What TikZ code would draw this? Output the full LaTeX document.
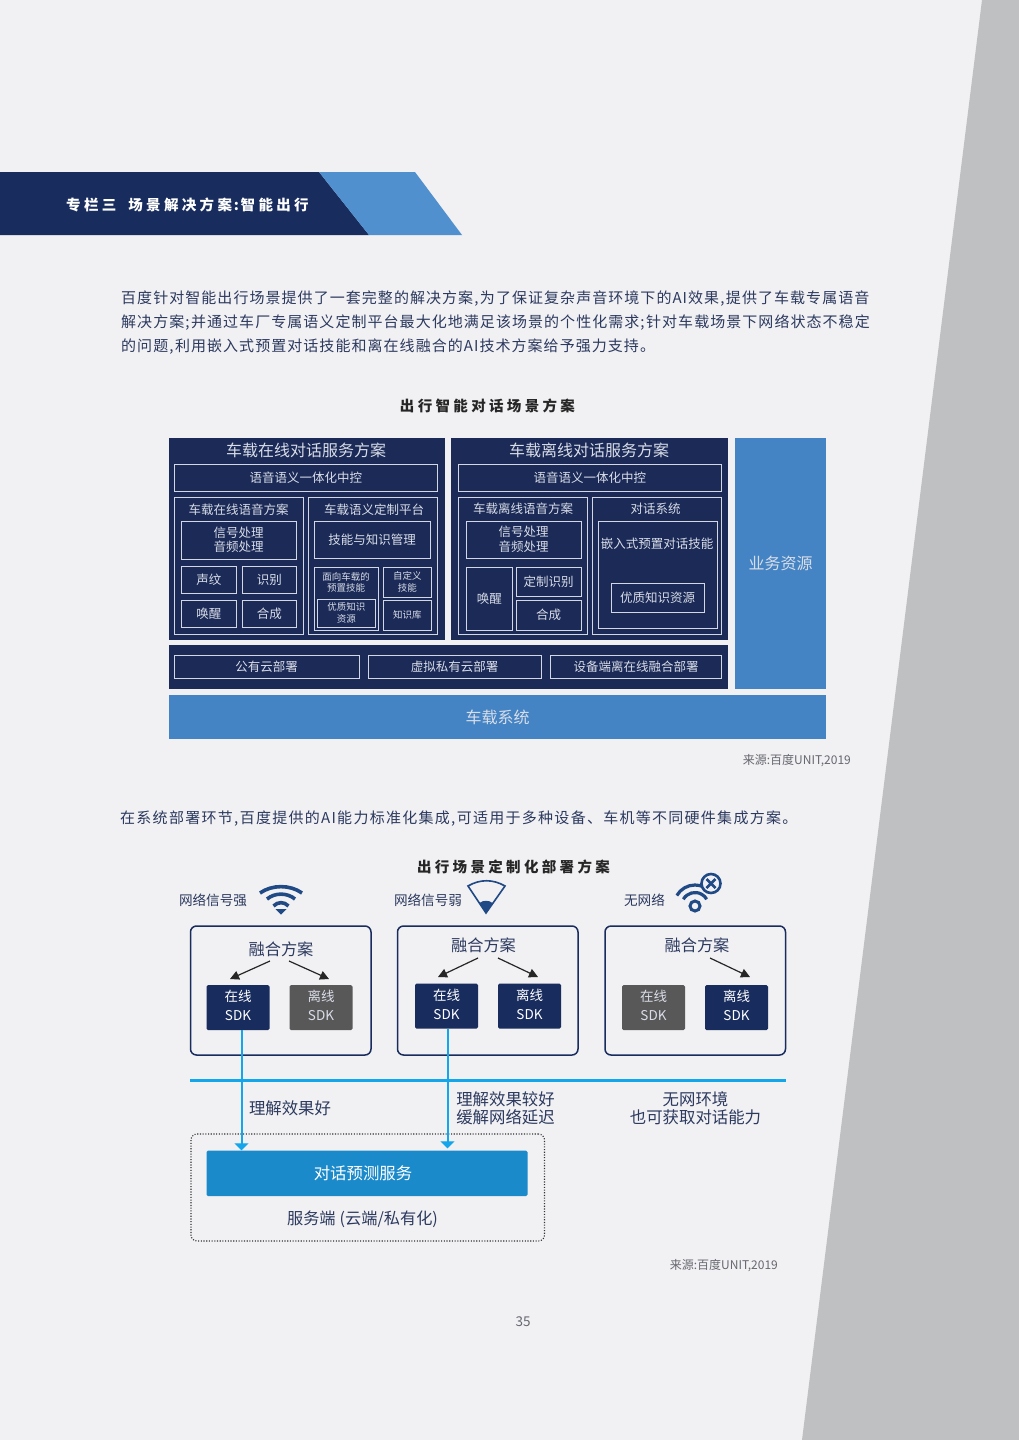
\documentclass[tikz,border=0pt]{standalone}
\usepackage{fontspec}
\setmainfont{Noto Sans CJK SC}
\newfontfamily\spaced[LetterSpace=23]{Noto Sans CJK SC}
\newfontfamily\bodya[LetterSpace=7]{Noto Sans CJK SC}
\newfontfamily\bodyb[LetterSpace=8.5]{Noto Sans CJK SC}
\usetikzlibrary{arrows.meta}
\definecolor{pagebg}{HTML}{F1F0F2}
\definecolor{sidegrey}{HTML}{BFC0C2}
\definecolor{navy}{HTML}{1B2A57}
\definecolor{bannernavy}{HTML}{182C5E}
\definecolor{bannerblue}{HTML}{5090CE}
\definecolor{midblue}{HTML}{4484C4}
\definecolor{lightline}{HTML}{D3D7E2}
\definecolor{lighttext}{HTML}{D9DDE8}
\definecolor{bodytext}{HTML}{2C3A60}
\definecolor{sdkgrey}{HTML}{595859}
\definecolor{sky}{HTML}{14A6EA}
\definecolor{service}{HTML}{1B8ACB}
\definecolor{icon}{HTML}{1F4A85}
\definecolor{srcgrey}{HTML}{666870}
\newcommand\cma{,\hspace{1.5pt}}
\newcommand\smi{;\hspace{1.5pt}}
\newcommand\sdkt[2]{\raisebox{2pt}{\begin{tabular}{@{}c@{}}#1\\#2\end{tabular}}}
\tikzset{
  px/.style={font=\fontsize{#1}{20}\selectfont},
  para/.style={inner sep=0pt,anchor=west,text=bodytext,font=\fontsize{15}{20}\bodya},
  txt/.style={inner sep=0pt,align=center,text=bodytext},
  headline/.style={inner sep=0pt,text=black!85,font=\fontsize{14.5}{17}\spaced\bfseries},
  panel/.style={fill=navy,draw=none,inner sep=0pt,align=center,text=lighttext},
  inbox/.style={draw=lightline,line width=0.9pt,inner sep=0pt,align=center,text=lighttext,font=\fontsize{12.5}{14.5}\selectfont},
  sdk/.style={fill=bannernavy,rounded corners=1.5pt,inner sep=0pt,align=center,text=white,font=\fontsize{13.5}{19}\selectfont},
  sdkoff/.style={sdk,fill=sdkgrey,text=lighttext},
  group/.style={draw=bannernavy,line width=1.5pt,rounded corners=6pt,inner sep=0pt},
  choose/.style={-{Triangle[length=9pt,width=9pt]},draw=black!85,line width=1.2pt},
  feedline/.style={draw=sky,line width=2pt},
  feedtip/.style={-{Triangle[length=7pt,width=14pt]},draw=sky,line width=1pt},
  wave/.style={draw=icon,line width=3.6pt},
}
\newcommand\bx[6][]{%
  \pgfmathsetmacro\cxv{(#3+#5)/2}\pgfmathsetmacro\cyv{(#4+#6)/2}%
  \pgfmathsetmacro\wv{#5-#3}\pgfmathsetmacro\hv{#6-#4}%
  \node[#1,minimum width=\wv pt,minimum height=\hv pt] (#2) at (\cxv,\cyv)}
\begin{document}
\begin{tikzpicture}[x=1pt,y=-1pt]
\useasboundingbox (0,0) rectangle (1019,1440);
\fill[pagebg] (0,0) rectangle (1019,1440);
\fill[sidegrey] (982,0) -- (1019,0) -- (1019,1440) -- (802,1440) -- cycle;
% banner
\fill[bannernavy] (0,172) -- (319,172) -- (369,235) -- (0,235) -- cycle;
\fill[bannerblue] (319,172) -- (415,172) -- (462,235) -- (369,235) -- cycle;
\node[headline,anchor=west,text=white] (bannertext) at (66,205) {专栏三\hspace{12pt}场景解决方案\makebox[8.7pt][c]{:}智能出行};
% paragraph
\node[para] (p1) at (121,299) {百度针对智能出行场景提供了一套完整的解决方案\cma 为了保证复杂声音环境下的AI效果\cma 提供了车载专属语音};
\node[para] (p2) at (121,323) {解决方案\smi 并通过车厂专属语义定制平台最大化地满足该场景的个性化需求\smi 针对车载场景下网络状态不稳定};
\node[para] (p3) at (121,347) {的问题\cma 利用嵌入式预置对话技能和离在线融合的AI技术方案给予强力支持。};
\node[headline] (t1) at (487.5,406) {出行智能对话场景方案};
% upper diagram panels
\bx[panel]{onl}{169}{438}{445}{640}{};
\bx[panel]{ofl}{451}{438}{728}{640}{};
\bx[panel]{dep}{169}{645}{728}{689}{};
\bx[panel,fill=midblue,text=lighttext,font=\fontsize{16}{19}\selectfont]{res}{735}{438}{826}{689}{业务资源};
\bx[panel,fill=midblue,text=lighttext,font=\fontsize{16}{19}\selectfont]{car}{169}{695}{826}{739}{车载系统};
\node[inner sep=0pt,text=lighttext,font=\fontsize{16}{19}\selectfont] (onlt) at (306,450) {车载在线对话服务方案};
\node[inner sep=0pt,text=lighttext,font=\fontsize{16}{19}\selectfont] (oflt) at (589,450) {车载离线对话服务方案};
% online
\bx[inbox]{ctl1}{174}{464}{437.5}{491}{语音语义一体化中控};
\bx[inbox]{sp1}{174}{497}{303}{634}{};
\bx[inbox]{sem}{308}{497}{437.5}{634}{};
\node[inner sep=0pt,text=lighttext,font=\fontsize{12.5}{15}\selectfont] (sp1t) at (238.5,510) {车载在线语音方案};
\node[inner sep=0pt,text=lighttext,font=\fontsize{12.5}{15}\selectfont] (semt) at (374,510) {车载语义定制平台};
\bx[inbox]{sig1}{181}{521}{296}{559}{信号处理\\音频处理};
\bx[inbox]{shw}{181.5}{566}{236}{593}{声纹};
\bx[inbox]{rec1}{242}{566}{296.5}{593}{识别};
\bx[inbox]{wak1}{181.5}{600}{236}{627}{唤醒};
\bx[inbox]{syn1}{242}{600}{296.5}{627}{合成};
\bx[inbox]{mgr}{314}{521}{430}{558}{技能与知识管理};
\bx[inbox]{pre}{314}{567}{378.5}{630}{};
\node[inner sep=0pt,align=center,text=lighttext,font=\fontsize{9.5}{11.5}\selectfont] (pret) at (346,582.5) {面向车载的\\预置技能};
\bx[inbox,font=\fontsize{9.5}{11.5}\selectfont]{qual1}{317.5}{599}{375}{627}{优质知识\\资源};
\bx[inbox,font=\fontsize{9.5}{11.5}\selectfont]{cust}{383}{567}{431.5}{597}{自定义\\技能};
\bx[inbox,font=\fontsize{9.5}{11.5}\selectfont]{kb}{383}{600}{431.5}{630}{知识库};
% offline
\bx[inbox]{ctl2}{458}{464}{721.5}{491}{语音语义一体化中控};
\bx[inbox]{sp2}{458}{497}{587}{634}{};
\bx[inbox]{dlg}{592.5}{497}{721.5}{634}{};
\node[inner sep=0pt,text=lighttext,font=\fontsize{12.5}{15}\selectfont] (sp2t) at (523,508.5) {车载离线语音方案};
\node[inner sep=0pt,text=lighttext,font=\fontsize{12.5}{15}\selectfont] (dlgt) at (655.5,508.5) {对话系统};
\bx[inbox]{sig2}{466}{521}{581}{558}{信号处理\\音频处理};
\bx[inbox]{wak2}{466}{567}{512.5}{630}{唤醒};
\bx[inbox]{rec2}{516}{567}{581}{596}{定制识别};
\bx[inbox]{syn2}{516}{600}{581}{630}{合成};
\bx[inbox]{emb}{598}{521}{717}{628.5}{};
\node[inner sep=0pt,text=lighttext,font=\fontsize{12.5}{15}\selectfont] (embt) at (657,544) {嵌入式预置对话技能};
\bx[inbox]{qual2}{611}{583}{704}{612}{优质知识资源};
% deployment
\bx[inbox]{pub}{174}{655}{359}{678}{公有云部署};
\bx[inbox]{pri}{368}{655}{541}{678}{虚拟私有云部署};
\bx[inbox]{edg}{550.5}{655}{721.5}{678}{设备端离在线融合部署};
\node[txt,anchor=east,text=srcgrey,px=12] (src1) at (851,761) {来源:百度UNIT,2019};
\node[para,font=\fontsize{15}{20}\bodyb] (p4) at (120,819) {在系统部署环节\cma 百度提供的AI能力标准化集成\cma 可适用于多种设备、车机等不同硬件集成方案。};
% lower diagram
\node[headline] (t2) at (513.5,867) {出行场景定制化部署方案};
\node[txt,px=13.6] (n1) at (213,900) {网络信号强};
\node[txt,px=13.6] (n2) at (428,900) {网络信号弱};
\node[txt,px=13.6] (n3) at (644.5,900) {无网络};
% wifi strong
\draw[wave] (260,893) .. controls (272,884.5) and (290,884.5) .. (302,893);
\draw[wave] (267,899) .. controls (275,892.5) and (287,892.5) .. (295,899);
\draw[wave] (273.5,906) .. controls (278,901.5) and (284,901.5) .. (288.5,906);
\fill[icon] (275.5,909) -- (286.5,909) -- (281,914.5) -- cycle;
% weak signal sector
\draw[icon,line width=1.6pt,line join=miter] (486,913) -- (468,886) .. controls (480,879) and (493,879) .. (505,886) -- cycle;
\fill[icon] (486,913) -- (479.5,903) .. controls (483,900) and (489,900) .. (492.5,903) -- cycle;
% no network
\draw[icon,line width=3.2pt] (695,906) ++(-150:21) arc[start angle=-150,end angle=-40,radius=21];
\draw[icon,line width=3.2pt] (695,906) ++(-150:13.5) arc[start angle=-150,end angle=-30,radius=13.5];
\draw[icon,line width=3pt] (695,906) circle[radius=5];
\draw[icon,line width=2.6pt,fill=pagebg] (711,883.5) circle[radius=9.5];
\draw[icon,line width=2.6pt] (706.5,879) -- (715.5,888) (715.5,879) -- (706.5,888);
% groups
\bx[group]{g1}{190.5}{926}{371}{1055}{};
\bx[group]{g2}{397.5}{926}{578}{1055}{};
\bx[group]{g3}{605}{926}{785.5}{1055}{};
\node[txt,px=16.2] (h1) at (281,949) {融合方案};
\node[txt,px=16.2] (h2) at (483.5,945) {融合方案};
\node[txt,px=16.2] (h3) at (697,945) {融合方案};
\bx[sdk]{a1}{206.5}{985}{269.5}{1030}{\sdkt{在线}{SDK}};
\bx[sdkoff]{b1}{289.5}{985}{352.5}{1030}{\sdkt{离线}{SDK}};
\bx[sdk]{a2}{415}{983.5}{478}{1028.5}{\sdkt{在线}{SDK}};
\bx[sdk]{b2}{498}{983.5}{561}{1028.5}{\sdkt{离线}{SDK}};
\bx[sdkoff]{a3}{622}{985}{685}{1030}{\sdkt{在线}{SDK}};
\bx[sdk]{b3}{705}{985}{768}{1030}{\sdkt{离线}{SDK}};
\coordinate (s1a) at (270,961); \coordinate (s1b) at (289,961);
\coordinate (s2a) at (478,958); \coordinate (s2b) at (498,958);
\coordinate (s3b) at (710,958);
\coordinate (e1a) at (230,979); \coordinate (e1b) at (329,979);
\coordinate (e2a) at (438,977); \coordinate (e2b) at (538,977);
\coordinate (e3b) at (750,977);
\draw[choose] (s1a) -- (e1a);
\draw[choose] (s1b) -- (e1b);
\draw[choose] (s2a) -- (e2a);
\draw[choose] (s2b) -- (e2b);
\draw[choose] (s3b) -- (e3b);
% blue rule
\coordinate (ruleL) at (190,1080.5); \coordinate (ruleR) at (786,1080.5);
\draw[sky,line width=3pt] (ruleL) -- (ruleR);
% service
\bx[draw=black!80,dash pattern=on 1.1pt off 1.6pt,line width=1.1pt,rounded corners=6pt,inner sep=0pt]{srv}{191}{1134}{544.5}{1241}{};
\bx[fill=service,rounded corners=1.5pt,inner sep=0pt,text=white,font=\fontsize{16.4}{19}\selectfont]{svc}{206.5}{1150.5}{527.5}{1196}{对话预测服务\hspace*{8pt}};
\node[txt,px=16.2] (srvt) at (362.5,1219) {服务端\hspace{4pt}(云端/私有化)};
\coordinate (x1) at (241.5,1000); \coordinate (x2) at (447.5,1000);
\draw[feedline] (x1 |- a1.south) -- ([yshift=5pt]x1 |- svc.north);
\draw[feedline] (x2 |- a2.south) -- ([yshift=7pt]x2 |- svc.north);
\draw[feedtip] ([yshift=7pt]x1 |- svc.north) -- (x1 |- svc.north);
\draw[feedtip] ([yshift=9pt]x2 |- svc.north) -- ([yshift=2pt]x2 |- svc.north);
\node[txt,px=16.4] (l1) at (290,1108) {理解效果好};
\node[txt,font=\fontsize{16.4}{18}\selectfont] (l2) at (505.5,1108) {理解效果较好\\缓解网络延迟};
\node[txt,font=\fontsize{16.4}{18}\selectfont] (l3) at (695.5,1108) {无网环境\\也可获取对话能力};
\node[txt,anchor=east,text=srcgrey,px=12] (src2) at (778,1266) {来源:百度UNIT,2019};
\node[txt,text=srcgrey,px=13.5] (pg) at (523,1322) {35};
\end{tikzpicture}
\end{document}
